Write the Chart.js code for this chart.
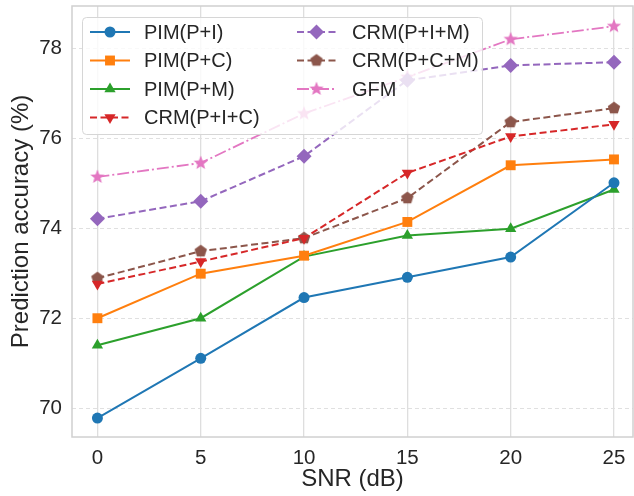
<!DOCTYPE html>
<html>
<head>
<meta charset="utf-8">
<script src="https://cdn.jsdelivr.net/npm/chart.js@4/dist/chart.umd.min.js"></script>
<style>
html, body { margin: 0; padding: 0; background: #fff; overflow: hidden; }
</style>
</head>
<body>
<canvas id="myChart" width="634" height="496"></canvas>
<script>
// data
const snr = [0, 5, 10, 15, 20, 25];
const pimPI  = [69.79, 71.12, 72.47, 72.92, 73.37, 75.02];
const pimPC  = [72.01, 73.00, 73.40, 74.15, 75.41, 75.54];
const pimPM  = [71.41, 72.01, 73.38, 73.85, 74.00, 74.87];
const crmPIC = [72.77, 73.27, 73.79, 75.24, 76.05, 76.32];
const crmPIM = [74.22, 74.61, 75.61, 77.30, 77.63, 77.70];
const crmPCM = [72.90, 73.50, 73.79, 74.68, 76.37, 76.68];
const gfm    = [75.15, 75.46, 76.56, 77.37, 78.21, 78.50];
const xTicks = [0, 5, 10, 15, 20, 25];
const yTicks = [70, 72, 74, 76, 78];

const FONT = "'Liberation Sans', Arial, sans-serif";
const TEXT = '#262626';

// filled pentagon / star markers (chart.js has none)
function shape(color, pts, size) {
  const c = document.createElement('canvas');
  c.width = size; c.height = size;
  const g = c.getContext('2d');
  g.fillStyle = color;
  g.beginPath();
  pts.forEach((p, i) => {
    const x = size / 2 + p[0], y = size / 2 + p[1];
    if (i === 0) g.moveTo(x, y); else g.lineTo(x, y);
  });
  g.closePath();
  g.fill();
  return c;
}
function polyPts(n, rOut, rIn) {
  const pts = [];
  const step = rIn ? n * 2 : n;
  for (let i = 0; i < step; i++) {
    const a = -Math.PI / 2 + i * 2 * Math.PI / step;
    const r = rIn && i % 2 ? rIn : rOut;
    pts.push([Math.cos(a) * r, Math.sin(a) * r]);
  }
  return pts;
}
const pentagon = shape('#8c564b', polyPts(5, 6.5), 16);
const star = shape('#e377c2', polyPts(5, 7.5, 3.2), 18);

function series(label, values, color, style, extra) {
  return Object.assign({
    label: label,
    data: values.map((v, i) => ({ x: snr[i], y: v })),
    borderColor: color,
    backgroundColor: color,
    pointBackgroundColor: color,
    pointBorderColor: color,
    borderWidth: 2,
    pointStyle: style,
    pointRadius: 6,
    pointBorderWidth: 0,
    tension: 0
  }, extra || {});
}

const dash = [7, 3.5];
const datasets = [
  series('PIM(P+I)', pimPI, '#1f77b4', 'circle', { pointRadius: 5.5 }),
  series('PIM(P+C)', pimPC, '#ff7f0e', 'rect', { pointRadius: 7 }),
  series('PIM(P+M)', pimPM, '#2ca02c', 'triangle', { pointRadius: 6.5 }),
  series('CRM(P+I+C)', crmPIC, '#d62728', 'triangle', { pointRotation: 180, pointRadius: 6.5, borderDash: dash }),
  series('CRM(P+I+M)', crmPIM, '#9467bd', 'rectRot', { pointRadius: 7.5, borderDash: dash }),
  series('CRM(P+C+M)', crmPCM, '#8c564b', pentagon, { borderDash: dash }),
  series('GFM', gfm, '#e377c2', star, { borderDash: [12, 3, 2, 3], borderWidth: 1.8 })
];

// frame around the plot + legend inside it
const framePlugin = {
  id: 'frame',
  afterDatasetsDraw(chart) {
    const ctx = chart.ctx, a = chart.chartArea;
    ctx.save();
    ctx.strokeStyle = '#d0d0d0';
    ctx.lineWidth = 1.5;
    ctx.strokeRect(a.left, a.top, a.right - a.left, a.bottom - a.top);

    // legend
    const bx = 82, by = 17, bw = 400, bh = 117;
    ctx.fillStyle = 'rgba(255,255,255,0.8)';
    ctx.strokeStyle = '#d6d6d6';
    ctx.lineWidth = 1;
    ctx.beginPath();
    ctx.roundRect(bx + 0.5, by + 0.5, bw, bh, 4);
    ctx.fill();
    ctx.stroke();

    const cols = [{ x0: 90, x1: 130, tx: 144 }, { x0: 297, x1: 336, tx: 352 }];
    const rows = [32, 60.5, 89, 117.5];
    ctx.font = '20px ' + FONT;
    ctx.textBaseline = 'middle';
    ctx.fillStyle = TEXT;
    chart.data.datasets.forEach((ds, i) => {
      const col = cols[i < 4 ? 0 : 1];
      const y = rows[i < 4 ? i : i - 4];
      ctx.save();
      ctx.strokeStyle = ds.borderColor;
      ctx.lineWidth = ds.borderWidth;
      ctx.setLineDash(ds.borderDash || []);
      ctx.beginPath();
      ctx.moveTo(col.x0, y);
      ctx.lineTo(col.x1, y);
      ctx.stroke();
      ctx.setLineDash([]);
      ctx.fillStyle = ds.borderColor;
      Chart.helpers.drawPoint(ctx, {
        pointStyle: ds.pointStyle,
        radius: ds.pointRadius,
        rotation: ds.pointRotation || 0,
        borderWidth: 0
      }, (col.x0 + col.x1) / 2, y);
      ctx.restore();
      ctx.fillText(ds.label, col.tx, y + 1);
    });
    ctx.restore();
  }
};

const myChart = new Chart(document.getElementById('myChart').getContext('2d'), {
  type: 'line',
  data: { datasets: datasets },
  plugins: [framePlugin],
  options: {
    responsive: false,
    animation: false,
    layout: { autoPadding: false, padding: { top: 6, right: 1, left: 0, bottom: 0 } },
    plugins: {
      legend: { display: false },
      tooltip: { enabled: false }
    },
    scales: {
      x: {
        type: 'linear',
        min: -1.23,
        max: 25.92,
        afterBuildTicks: s => { s.ticks = xTicks.map(v => ({ value: v })); },
        afterFit: s => { s.height = 59; s.paddingLeft = 0; s.paddingRight = 0; },
        grid: { color: '#dedede', lineWidth: 1.3, drawTicks: false },
        border: { display: false },
        ticks: { color: TEXT, font: { family: FONT, size: 20.5 }, padding: 9 },
        title: { display: true, text: 'SNR (dB)', color: TEXT, font: { family: FONT, size: 24 }, padding: { top: 0, bottom: 2 } }
      },
      y: {
        min: 69.37,
        max: 78.95,
        afterBuildTicks: s => { s.ticks = yTicks.map(v => ({ value: v })); },
        afterFit: s => { s.width = 72; s.paddingTop = 0; s.paddingBottom = 0; },
        grid: { color: '#e0e0e0', lineWidth: 1, drawTicks: false },
        border: { display: false, dash: [4, 3] },
        ticks: { color: TEXT, font: { family: FONT, size: 20.5 }, padding: 10 },
        title: { display: true, text: 'Prediction accuracy (%)', color: TEXT, font: { family: FONT, size: 24 }, padding: { top: 7, bottom: 0 } }
      }
    }
  }
});
</script>
</body>
</html>
